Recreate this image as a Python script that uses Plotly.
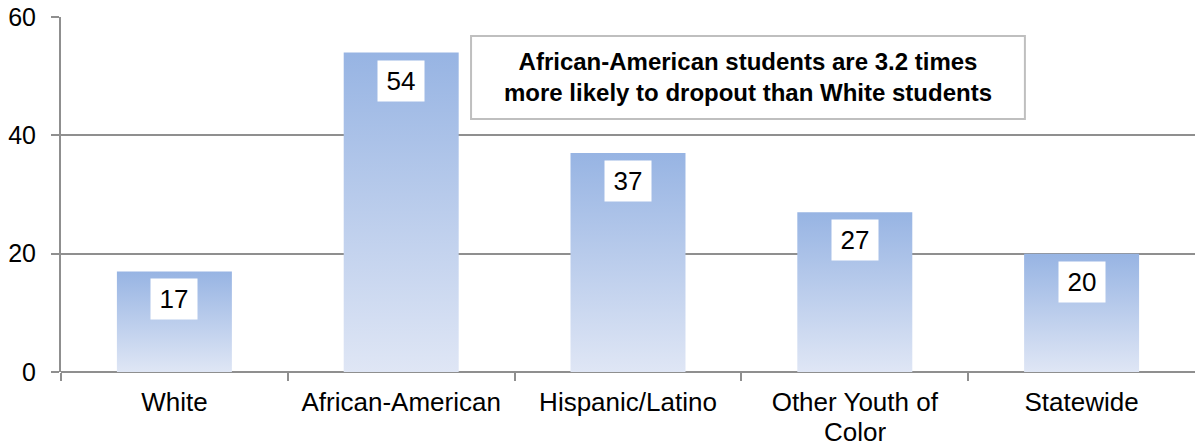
import plotly.graph_objects as go

# Dropout rate by student group
categories = ["White", "African-American", "Hispanic/Latino", "Other Youth of Color", "Statewide"]
rates = [17, 54, 37, 27, 20]
y_ticks = [0, 20, 40, 60]

# wrapped category labels (first line drawn as the tick label, the rest below it)
category_lines = [["White"], ["African-American"], ["Hispanic/Latino"],
                  ["Other Youth of", "Color"], ["Statewide"]]

FONT = "Liberation Sans, Arial, sans-serif"
GRID = "#8f8f8f"
BAR_HALF = 0.2535
TXT = 26

fig = go.Figure()

# Each bar is a filled rectangle with a vertical gradient (light at the base, blue at the top)
for i, v in enumerate(rates):
    fig.add_trace(go.Scatter(
        x=[i - BAR_HALF, i + BAR_HALF, i + BAR_HALF, i - BAR_HALF, i - BAR_HALF],
        y=[0, 0, v, v, 0],
        mode="lines",
        line=dict(width=0),
        fill="toself",
        fillgradient=dict(type="vertical",
                          colorscale=[[0, "#dfe6f5"], [1, "#97b4e3"]]),
        hoverinfo="skip",
        showlegend=False,
        name=categories[i],
    ))
    # value label in a white box just inside the top of the bar
    fig.add_annotation(
        x=i, y=v, xref="x", yref="y",
        text=str(v), showarrow=False,
        yanchor="top", yshift=-7,
        width=40, height=34, borderpad=3,
        bgcolor="white",
        font=dict(family=FONT, size=TXT, color="black"),
    )

# continuation lines of wrapped category labels
for i, lines in enumerate(category_lines):
    for k, line in enumerate(lines[1:], start=1):
        fig.add_annotation(
            x=i, y=0, xref="x", yref="paper",
            text=line, showarrow=False,
            yanchor="top", yshift=-47 - 27 * (k - 1),
            height=22,
            font=dict(family=FONT, size=TXT, color="black"),
        )

# Call-out box
fig.add_shape(type="rect", xref="x", yref="y",
              x0=1.308, x1=3.750, y0=42.76, y1=56.79,
              line=dict(color="#bfbfbf", width=2), fillcolor="white", layer="above")
fig.add_annotation(
    x=2.529, y=49.8, xref="x", yref="y", showarrow=False,
    text="<b>African-American students are 3.2 times<br>more likely to dropout than White students</b>",
    font=dict(family=FONT, size=24, color="black"),
    align="center",
)

fig.update_layout(
    width=1195, height=447,
    margin=dict(l=61, r=0, t=17, b=75),
    plot_bgcolor="white", paper_bgcolor="white",
    font=dict(family=FONT, size=TXT, color="black"),
    xaxis=dict(
        range=[-0.5, 4.5],
        tickmode="array",
        tickvals=list(range(len(categories))),
        ticktext=[lines[0] for lines in category_lines],
        ticks="",
        ticklabelstandoff=12,
        showgrid=False,
        zeroline=False,
        showline=False,
        tickfont=dict(family=FONT, size=TXT, color="black"),
        minor=dict(tickmode="array", tickvals=[-0.5, 0.5, 1.5, 2.5, 3.5],
                   ticks="outside", ticklen=8, tickcolor=GRID, tickwidth=2,
                   showgrid=False),
        fixedrange=True,
    ),
    yaxis=dict(
        range=[0, 60],
        tickmode="array",
        tickvals=y_ticks,
        ticks="outside", ticklen=8, tickcolor=GRID, tickwidth=2,
        showgrid=True, gridcolor=GRID, gridwidth=2,
        zeroline=True, zerolinecolor=GRID, zerolinewidth=2,
        showline=True, linecolor=GRID, linewidth=2,
        tickfont=dict(family=FONT, size=25, color="black"),
        ticklabelstandoff=10,
        fixedrange=True,
    ),
)

fig.write_html("out.html")
